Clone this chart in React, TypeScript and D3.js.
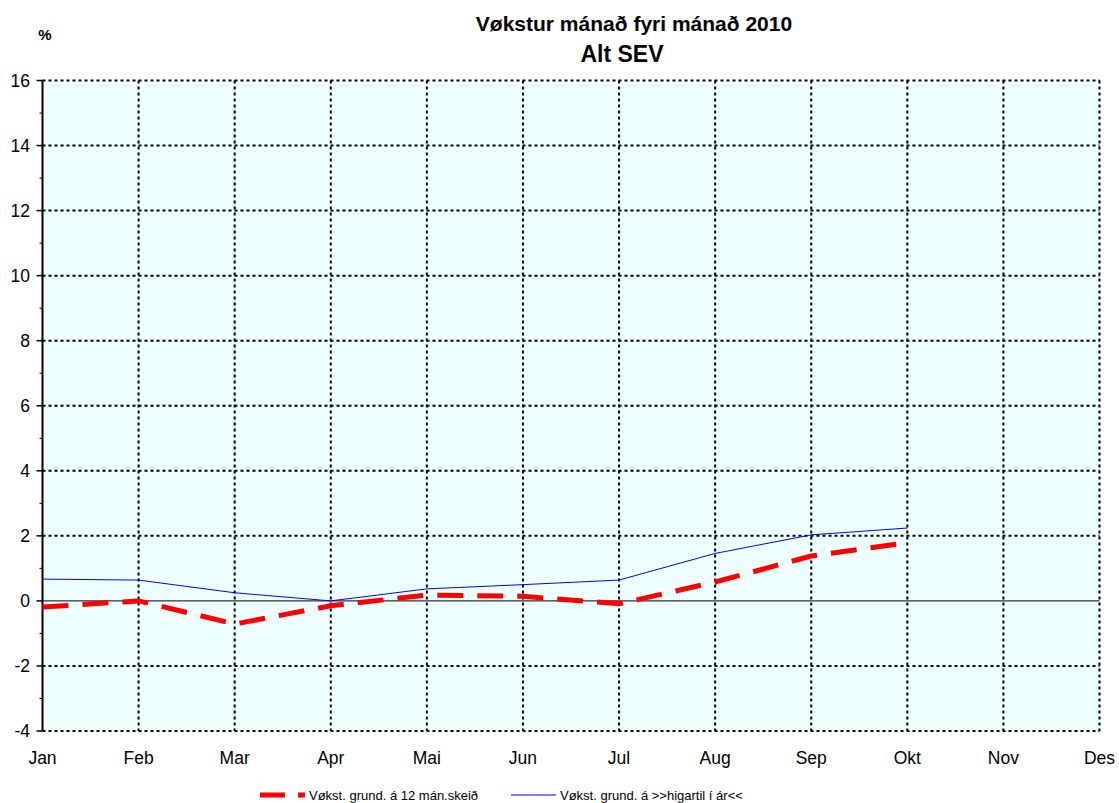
import * as d3 from 'd3';

// month labels along the x axis
const months = ['Jan', 'Feb', 'Mar', 'Apr', 'Mai', 'Jun', 'Jul', 'Aug', 'Sep', 'Okt', 'Nov', 'Des'];
// growth over the last 12 months (red dashed)
const growth12 = [-0.19, 0.0, -0.71, -0.15, 0.18, 0.14, -0.09, 0.58, 1.38, 1.79];
// growth so far this year (blue)
const growthYtd = [0.67, 0.64, 0.25, 0.0, 0.37, 0.5, 0.64, 1.46, 2.03, 2.24];
const yTicks = [-4, -2, 0, 2, 4, 6, 8, 10, 12, 14, 16];
const yMinor = [-3, -1, 1, 3, 5, 7, 9, 11, 13, 15];

const series = [
  { name: 'Vøkst. grund. á 12 mán.skeið', values: growth12, color: '#ff0000', width: 5, dash: '26,14' },
  { name: 'Vøkst. grund. á >>higartil í ár<<', values: growthYtd, color: '#0000ff', width: 1, dash: null },
];

export default function App() {
  const width = 1119;
  const height = 803;
  const marginLeft = 42.5;
  const marginRight = 19.5;
  const marginTop = 80.5;
  const plotBottom = 731;
  const font = 'Arial, "Liberation Sans", Helvetica, sans-serif';

  const x = d3.scalePoint<string>().domain(months).range([marginLeft, width - marginRight]).padding(0);
  const y = d3.scaleLinear().domain([-4, 16]).range([plotBottom, marginTop]);

  const line = d3.line<number>()
    .x((d, i) => x(months[i]) as number)
    .y(d => y(d));

  const legendX = [260, 511];

  return (
    <div style={{ position: 'absolute', left: 0, top: 0 }}>
      <svg width={width} height={height} style={{ display: 'block', fontFamily: font }}>
        <rect x={0} y={0} width={width} height={height} fill="#ffffff" />
        <rect x={x('Jan')} y={y(16)} width={(x('Des') as number) - (x('Jan') as number)} height={y(-4) - y(16)} fill="#eeffff" />

        {/* horizontal grid */}
        {yTicks.filter(t => t !== 0).map(t => (
          <line key={'h' + t} x1={x('Jan')} x2={x('Des')} y1={y(t)} y2={y(t)}
            stroke="#000" strokeWidth={2} strokeDasharray="3,3" />
        ))}
        {/* vertical grid */}
        {months.slice(1).map(m => (
          <line key={'v' + m} x1={x(m)} x2={x(m)} y1={y(16)} y2={y(-4)}
            stroke="#000" strokeWidth={2} strokeDasharray="3,3" />
        ))}
        {/* zero line */}
        <line x1={x('Jan')} x2={x('Des')} y1={y(0)} y2={y(0)} stroke="#000" strokeWidth={1} />

        {/* y axis */}
        <line x1={marginLeft} x2={marginLeft} y1={y(16)} y2={y(-4)} stroke="#000" strokeWidth={2} />
        {yTicks.map(t => (
          <g key={'t' + t}>
            <line x1={marginLeft - 6} x2={marginLeft} y1={y(t)} y2={y(t)} stroke="#000" strokeWidth={1.5} />
            <text x={30} y={y(t)} dy="0.35em" textAnchor="end" fontSize={17.5} fill="#000">{t}</text>
          </g>
        ))}
        {yMinor.map(t => (
          <line key={'m' + t} x1={marginLeft - 3} x2={marginLeft} y1={y(t)} y2={y(t)} stroke="#000" strokeWidth={1} />
        ))}

        {/* x labels */}
        {months.map(m => (
          <text key={'x' + m} x={x(m)} y={764} textAnchor="middle" fontSize={17.5} fill="#000">{m}</text>
        ))}

        {/* series */}
        {series.map(s => (
          <path key={s.name} d={line(s.values) || ''} fill="none" stroke={s.color}
            strokeWidth={s.width} strokeDasharray={s.dash || undefined} />
        ))}

        {/* titles */}
        <text x={45} y={40} textAnchor="middle" fontSize={15} fontWeight="bold">%</text>
        <text x={634} y={31} textAnchor="middle" fontSize={21} fontWeight="bold">Vøkstur mánað fyri mánað 2010</text>
        <text x={622} y={62} textAnchor="middle" fontSize={23} fontWeight="bold">Alt SEV</text>

        {/* legend */}
        {series.map((s, i) => (
          <g key={'l' + s.name} transform={`translate(${legendX[i]},795)`}>
            <line x1={0} x2={45} y1={0} y2={0} stroke={s.color}
              strokeWidth={s.width} strokeDasharray={s.dash ? '25,13' : undefined} />
            <text x={49} y={0} dy="0.35em" fontSize={13} fill="#000">{s.name}</text>
          </g>
        ))}
      </svg>
    </div>
  );
}
